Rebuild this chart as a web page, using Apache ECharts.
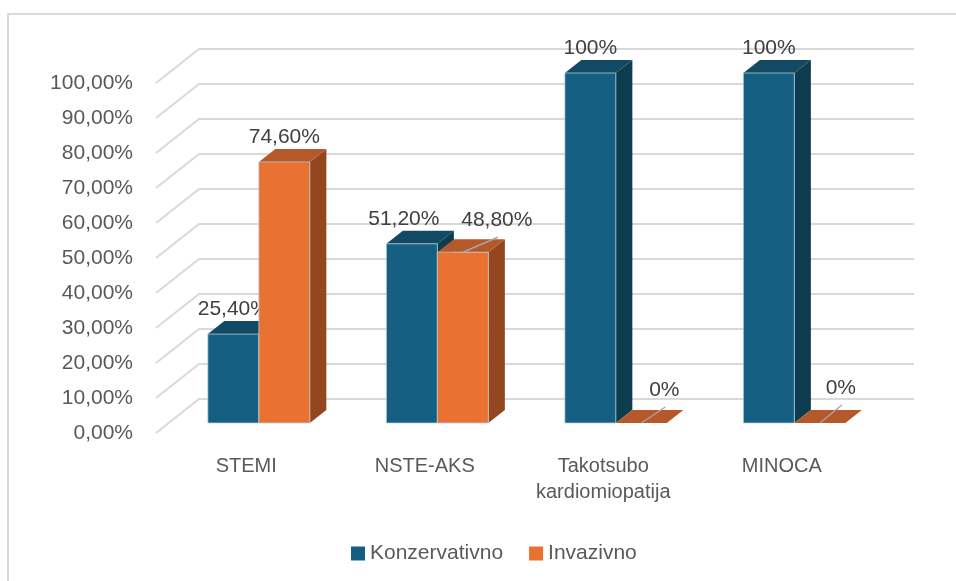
<!DOCTYPE html>
<html><head><meta charset="utf-8">
<script src="https://cdn.jsdelivr.net/npm/echarts@6/dist/echarts.min.js"></script>
<style>html,body{margin:0;padding:0;background:#fff}#c{width:956px;height:581px}</style>
</head><body><div id="c"></div>
<script>
const categories = ['STEMI', 'NSTE-AKS', 'Takotsubo\nkardiomiopatija', 'MINOCA'];
const konzervativno = [25.4, 51.2, 100, 100];
const invazivno = [74.6, 48.8, 0, 0];
const yTicks = [0, 10, 20, 30, 40, 50, 60, 70, 80, 90, 100];
const seriesNames = ['Konzervativno', 'Invazivno'];

const FONT = '"Liberation Sans", Arial, sans-serif';
const WALL_DX = 43, WALL_DY = -34;
const PLANE_DX = 12.6, PLANE_DY = -10;
const DEPTH_DX = 16.5, DEPTH_DY = -13;
const BAR_W = 51;
const palette = [
  { front: '#156082', top: '#124963', side: '#0d3c4f' },
  { front: '#E97132', top: '#B5582A', side: '#94461F' }
];

function fmtVal(v) {
  return Number.isInteger(v) ? v + '%' : v.toFixed(2).replace('.', ',') + '%';
}
function labelNudge(s, i) {
  if (s === 0 && i === 1) return { dx: -8, dy: 0, leader: false };
  if (s === 1 && i === 1) return { dx: 34, dy: -7, leader: true };
  if (s === 1 && i === 2) return { dx: 23, dy: -8, leader: true };
  if (s === 1 && i === 3) return { dx: 21, dy: -10, leader: true };
  return { dx: 0, dy: 0, leader: false };
}

function barRender(s) {
  return function (params, api) {
    const i = api.value(0), v = api.value(1);
    const base = api.coord([i, 0]);
    const topP = api.coord([i, v]);
    const cx = base[0] + PLANE_DX;
    const x0 = s === 0 ? cx - BAR_W : cx;
    const x1 = x0 + BAR_W;
    const yb = base[1] + PLANE_DY, yt = topP[1] + PLANE_DY;
    const c = palette[s];
    const children = [
      { type: 'polygon', shape: { points: [[x1, yb], [x1 + DEPTH_DX, yb + DEPTH_DY], [x1 + DEPTH_DX, yt + DEPTH_DY], [x1, yt]] }, style: { fill: c.side } },
      { type: 'polygon', shape: { points: [[x0, yt], [x1, yt], [x1 + DEPTH_DX, yt + DEPTH_DY], [x0 + DEPTH_DX, yt + DEPTH_DY]] }, style: { fill: c.top } }
    ];
    if (yb - yt > 0.5) {
      children.push({ type: 'rect', shape: { x: x0, y: yt, width: BAR_W, height: yb - yt }, style: { fill: c.front, stroke: 'rgba(185,210,225,0.75)', lineWidth: 1 } });
    }
    const fc = (x0 + x1) / 2;
    const n = labelNudge(s, i);
    const lx = fc + n.dx, ly = yt - 25 + n.dy;
    if (n.leader) {
      children.push({ type: 'line', shape: { x1: fc, y1: yt, x2: lx + 1, y2: ly + 17 }, style: { stroke: '#a6a6a6', lineWidth: 1.5 } });
    }
    children.push({ type: 'text', style: { text: fmtVal(v), x: lx, y: ly, align: 'center', verticalAlign: 'middle', fill: '#404040', font: '21px ' + FONT } });
    return { type: 'group', children };
  };
}

function gridRender(params, api) {
  const v = api.value(1);
  const y = api.coord([0, v])[1];
  const cs = params.coordSys;
  const x0 = cs.x - 1;
  return { type: 'polyline', shape: { points: [[x0, y], [x0 + WALL_DX, y + WALL_DY], [cs.x + cs.width + WALL_DX, y + WALL_DY]] }, style: { stroke: '#d9d9d9', lineWidth: 2, fill: null } };
}

const chart = echarts.init(document.getElementById('c'), null, { renderer: 'canvas' });
chart.setOption({
  animation: false,
  backgroundColor: '#fff',
  textStyle: { fontFamily: FONT },
  graphic: [{ type: 'rect', z: -10, shape: { x: 8, y: 14, width: 1000, height: 1000 }, style: { fill: null, stroke: '#d9d9d9', lineWidth: 2 } }],
  grid: { left: 157, top: 83, width: 714, height: 350, containLabel: false },
  xAxis: {
    type: 'category', data: categories,
    axisLine: { show: false }, axisTick: { show: false }, splitLine: { show: false },
    axisLabel: { interval: 0, fontSize: 20, color: '#595959', lineHeight: 26, margin: 20, fontFamily: FONT }
  },
  yAxis: {
    type: 'value', min: 0, max: 100, interval: 10,
    axisLine: { show: false }, axisTick: { show: false }, splitLine: { show: false },
    axisLabel: { fontSize: 21, color: '#595959', margin: 24, fontFamily: FONT, formatter: v => v.toFixed(2).replace('.', ',') + '%' }
  },
  legend: {
    data: seriesNames, left: 346, top: 538, icon: 'rect', itemWidth: 14, itemHeight: 14, itemGap: 26,
    textStyle: { fontSize: 21, color: '#595959', fontFamily: FONT }
  },
  series: [
    { type: 'custom', silent: true, z: 1, renderItem: gridRender, data: yTicks.map(v => [0, v]), encode: { x: 0, y: 1 } },
    { type: 'custom', name: seriesNames[0], z: 2, itemStyle: { color: palette[0].front }, renderItem: barRender(0), data: konzervativno.map((v, i) => [i, v]), encode: { x: 0, y: 1 } },
    { type: 'custom', name: seriesNames[1], z: 3, itemStyle: { color: palette[1].front }, renderItem: barRender(1), data: invazivno.map((v, i) => [i, v]), encode: { x: 0, y: 1 } }
  ]
});
</script></body></html>
